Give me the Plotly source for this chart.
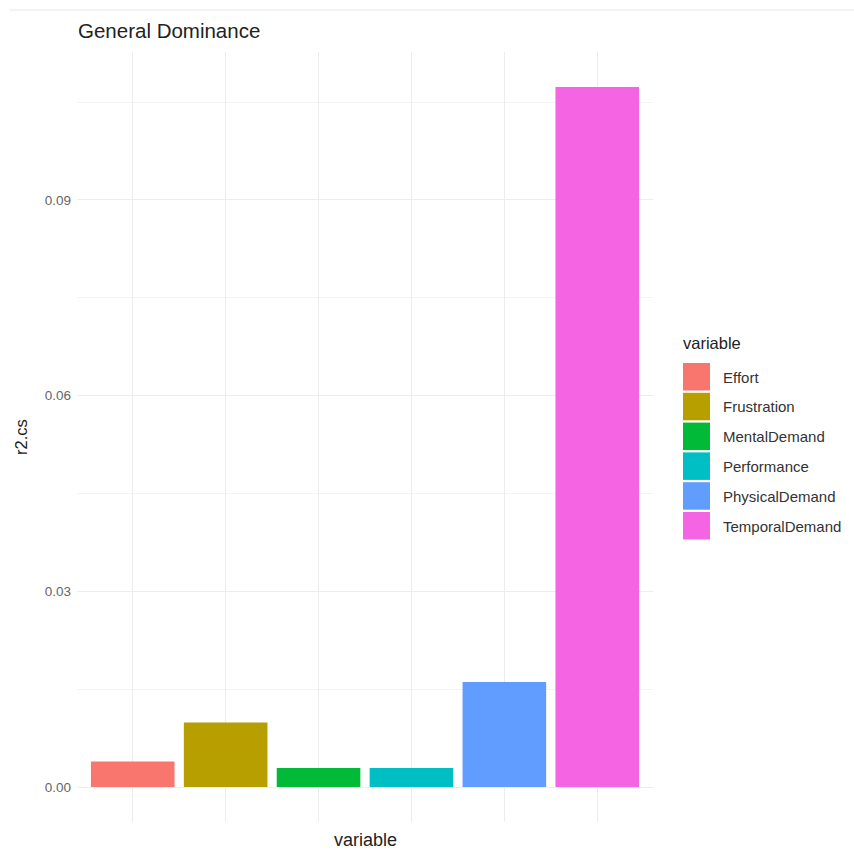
import plotly.graph_objects as go

categories = ["Effort", "Frustration", "MentalDemand", "Performance", "PhysicalDemand", "TemporalDemand"]
values = [0.0039, 0.0099, 0.0029, 0.0029, 0.0161, 0.1073]
colors = ["#F8766D", "#B79F00", "#00BA38", "#00BFC4", "#619CFF", "#F564E3"]
y_tickvals = [0.0, 0.03, 0.06, 0.09]
y_ticktext = ["0.00", "0.03", "0.06", "0.09"]

W, H = 854, 850
L, R, T, B = 77, 201, 52, 28
pw, ph = W - L - R, H - T - B

def px(x):
    return (x - L) / pw

def py(y):
    return (H - B - y) / ph

ymax = max(values)
pad = ymax * 0.05

fig = go.Figure()
fig.add_trace(go.Bar(
    x=categories, y=values, marker=dict(color=colors, line=dict(width=0)),
    width=0.9, showlegend=False,
))

shapes = []
annotations = []
# legend (manual, ggplot-style keys)
annotations.append(dict(text="variable", xref="paper", yref="paper", x=px(681), y=py(343),
                        xanchor="left", yanchor="middle", showarrow=False,
                        font=dict(size=16.5, color="#222222")))
for i, (c, col) in enumerate(zip(categories, colors)):
    top = 363 + i * 29.8
    shapes.append(dict(type="rect", xref="paper", yref="paper",
                       x0=px(683), x1=px(710), y0=py(top), y1=py(top + 27.5),
                       fillcolor=col, line=dict(width=0)))
    annotations.append(dict(text=c, xref="paper", yref="paper", x=px(721), y=py(top + 14),
                            xanchor="left", yanchor="middle", showarrow=False,
                            font=dict(size=15, color="#333333")))
# title and axis titles
annotations.append(dict(text="General Dominance", xref="paper", yref="paper", x=px(76), y=py(31),
                        xanchor="left", yanchor="middle", showarrow=False,
                        font=dict(size=20.5, color="#222222")))
annotations.append(dict(text="variable", xref="paper", yref="paper", x=0.5, y=py(840),
                        xanchor="center", yanchor="middle", showarrow=False,
                        font=dict(size=18, color="#222222")))
annotations.append(dict(text="r2.cs", xref="paper", yref="paper", x=px(21), y=0.5,
                        xanchor="center", yanchor="middle", showarrow=False, textangle=-90,
                        font=dict(size=16.5, color="#222222")))
# faint top rule
shapes.append(dict(type="line", xref="paper", yref="paper", x0=px(10), x1=px(854),
                   y0=py(10), y1=py(10), line=dict(color="#EEEEEE", width=1.5)))

fig.update_layout(
    width=W, height=H,
    margin=dict(l=L, r=R, t=T, b=B),
    paper_bgcolor="white", plot_bgcolor="white",
    font=dict(family="Liberation Sans, Arial, sans-serif"),
    shapes=shapes, annotations=annotations,
    bargap=0.1,
)
fig.update_xaxes(
    range=[-0.6, len(categories) - 0.4], showticklabels=False, ticks="",
    showgrid=True, gridcolor="#EDEDED", gridwidth=1.2, zeroline=False, showline=False,
    fixedrange=True,
)
fig.update_yaxes(
    range=[-pad, ymax + pad], tickvals=y_tickvals, ticktext=y_ticktext,
    tickfont=dict(size=13.5, color="#666666"), ticks="", ticklabelstandoff=5,
    showgrid=True, gridcolor="#EDEDED", gridwidth=1.2, zeroline=False, showline=False,
    minor=dict(tick0=0.015, dtick=0.03, showgrid=True, gridcolor="#F4F4F4", gridwidth=1),
    fixedrange=True,
)

fig.write_html(
    "out.html",
    config={"displayModeBar": False},
    post_script="document.body.style.margin='0';document.body.style.overflow='hidden';",
)
